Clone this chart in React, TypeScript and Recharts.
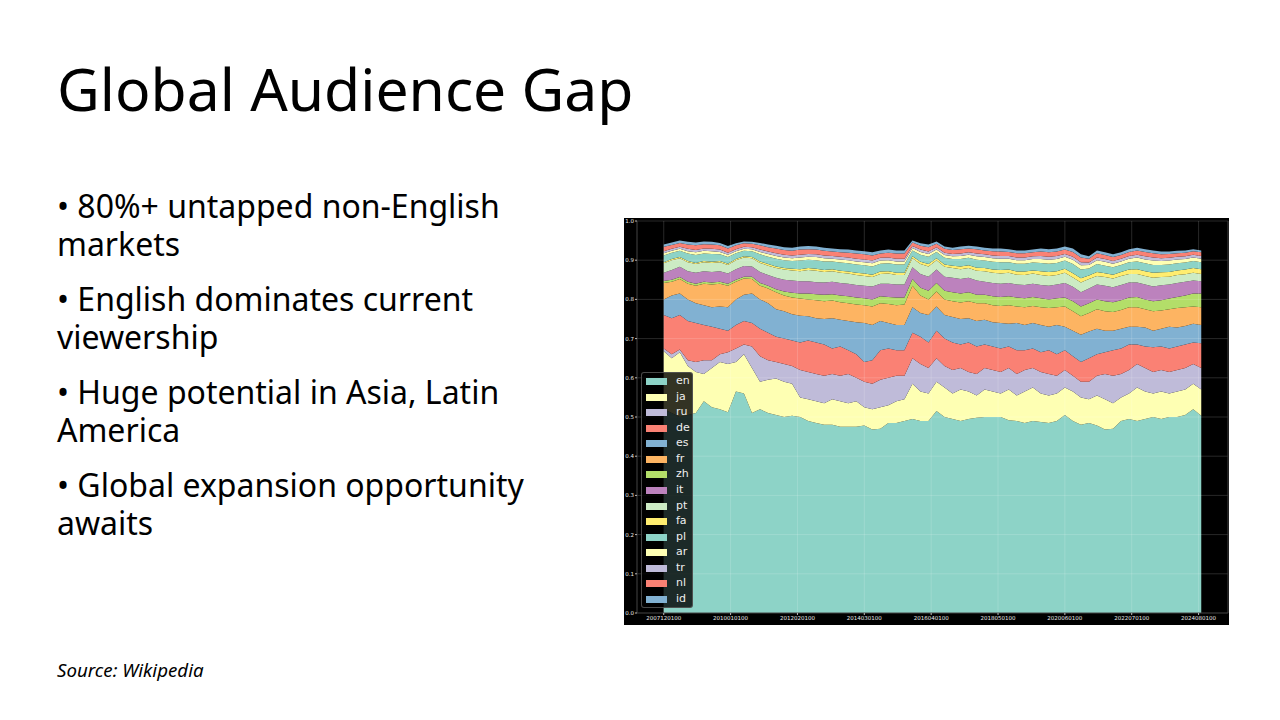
import React from 'react';
import { AreaChart, Area, XAxis, YAxis, ReferenceLine } from 'recharts';

// month index since 2007-12, sampled quarterly
const MONTHS = [0, 3, 6, 9, 12, 15, 18, 21, 24, 27, 30, 33, 36, 39, 42, 45, 48, 51, 54, 57, 60, 63, 66, 69, 72, 75, 78, 81, 84, 87, 90, 93, 96, 99, 102, 105, 108, 111, 114, 117, 120, 123, 126, 129, 132, 135, 138, 141, 144, 147, 150, 153, 156, 159, 162, 165, 168, 171, 174, 177, 180, 183, 186, 189, 192, 195, 198, 201];

const TICK_POS = [0, 25, 50, 75, 100, 125, 150, 175, 200];
const TICK_LABELS = ['2007120100', '2010010100', '2012020100', '2014030100', '2016040100', '2018050100', '2020060100', '2022070100', '2024080100'];
const Y_TICKS = [0, 0.1, 0.2, 0.3, 0.4, 0.5, 0.6, 0.7, 0.8, 0.9, 1.0];

const en = [.52, .51, .50, .505, .51, .54, .525, .52, .512, .565, .56, .51, .52, .51, .505, .50, .503, .50, .49, .485, .48, .48, .475, .475, .475, .478, .468, .47, .485, .485, .49, .495, .49, .49, .515, .50, .495, .49, .495, .498, .50, .50, .50, .492, .49, .485, .49, .487, .485, .49, .505, .49, .48, .485, .478, .468, .47, .49, .495, .49, .495, .50, .495, .50, .50, .505, .52, .503];
const ja = [.148, .14, .165, .125, .105, .07, .10, .12, .123, .075, .10, .115, .07, .085, .093, .09, .082, .05, .055, .055, .055, .065, .065, .06, .065, .047, .052, .055, .045, .055, .055, .09, .075, .07, .075, .075, .065, .08, .07, .057, .07, .065, .06, .078, .065, .08, .085, .073, .07, .07, .07, .075, .07, .06, .077, .077, .065, .06, .065, .085, .07, .06, .07, .06, .065, .065, .065, .067];
const ru = [.007, .01, .007, .015, .025, .035, .02, .02, .03, .035, .025, .055, .065, .05, .042, .045, .045, .07, .07, .07, .07, .065, .065, .075, .06, .065, .065, .07, .07, .065, .06, .065, .07, .065, .06, .055, .06, .055, .05, .055, .055, .055, .055, .055, .055, .055, .05, .055, .055, .045, .045, .04, .04, .045, .05, .065, .07, .06, .06, .06, .06, .055, .055, .055, .055, .055, .05, .055];
const de = [.085, .092, .088, .10, .10, .09, .085, .065, .055, .06, .06, .06, .07, .07, .065, .065, .065, .07, .08, .08, .08, .065, .075, .06, .06, .05, .06, .075, .075, .065, .065, .065, .07, .065, .07, .07, .07, .06, .075, .07, .06, .06, .06, .055, .06, .05, .05, .05, .06, .055, .05, .05, .05, .06, .055, .055, .065, .065, .065, .05, .055, .063, .06, .06, .06, .06, .055, .063];
const es = [.04, .058, .055, .055, .05, .05, .05, .057, .06, .065, .067, .075, .075, .075, .07, .07, .067, .068, .062, .062, .065, .077, .068, .075, .082, .10, .09, .075, .065, .065, .065, .065, .06, .07, .062, .06, .065, .065, .062, .065, .063, .062, .065, .058, .07, .065, .065, .07, .06, .075, .06, .065, .07, .068, .065, .055, .05, .05, .045, .045, .048, .042, .045, .055, .048, .047, .048, .047];
const fr = [.042, .035, .037, .04, .045, .055, .058, .058, .055, .045, .041, .037, .035, .038, .043, .04, .043, .044, .043, .046, .045, .045, .045, .045, .045, .045, .047, .045, .048, .05, .052, .055, .045, .04, .038, .04, .04, .042, .043, .045, .042, .043, .043, .047, .042, .045, .043, .045, .048, .045, .052, .05, .047, .047, .05, .05, .048, .048, .05, .05, .047, .05, .047, .045, .05, .048, .044, .045];
const zh = [.005, .005, .005, .005, .005, .005, .005, .005, .005, .005, .005, .006, .007, .007, .008, .01, .012, .013, .015, .015, .017, .016, .017, .018, .018, .018, .018, .018, .018, .02, .018, .017, .02, .022, .022, .022, .023, .023, .023, .022, .022, .023, .023, .023, .023, .023, .023, .023, .022, .023, .023, .025, .025, .025, .025, .025, .025, .025, .025, .026, .025, .025, .026, .027, .028, .03, .033, .035];
const it = [.021, .025, .026, .027, .028, .027, .027, .027, .026, .027, .027, .026, .028, .027, .029, .03, .031, .031, .031, .031, .031, .032, .032, .032, .032, .032, .033, .032, .034, .033, .033, .03, .035, .036, .034, .036, .037, .037, .037, .036, .033, .034, .034, .034, .033, .034, .034, .034, .035, .035, .037, .037, .036, .038, .038, .04, .038, .039, .038, .037, .038, .038, .038, .036, .036, .035, .033, .031];
const pt = [.024, .025, .022, .023, .022, .023, .023, .023, .022, .023, .022, .021, .023, .024, .025, .026, .026, .026, .029, .029, .027, .027, .026, .026, .025, .025, .024, .025, .026, .024, .024, .023, .025, .026, .024, .025, .025, .025, .025, .025, .027, .026, .026, .026, .025, .025, .026, .025, .025, .024, .026, .024, .025, .024, .022, .022, .022, .023, .022, .022, .022, .022, .021, .02, .02, .019, .02, .019];
const fa = [.003, .003, .003, .003, .003, .003, .003, .003, .003, .003, .003, .003, .004, .004, .004, .004, .004, .005, .005, .005, .005, .005, .005, .005, .006, .006, .006, .006, .006, .006, .006, .005, .006, .006, .005, .006, .006, .007, .007, .008, .008, .008, .009, .008, .008, .009, .008, .01, .01, .01, .01, .011, .011, .009, .01, .01, .01, .01, .011, .012, .012, .013, .012, .012, .012, .012, .012, .012];
const pl = [.017, .016, .016, .019, .02, .019, .02, .017, .017, .015, .014, .015, .018, .019, .02, .02, .02, .022, .021, .022, .022, .02, .021, .021, .021, .021, .021, .02, .02, .021, .021, .015, .018, .019, .016, .017, .017, .019, .019, .02, .019, .02, .02, .019, .02, .02, .02, .021, .021, .021, .021, .023, .022, .018, .02, .019, .019, .018, .019, .02, .02, .02, .019, .019, .018, .018, .018, .018];
const ar = [.006, .005, .005, .006, .007, .007, .007, .006, .006, .005, .005, .005, .006, .007, .007, .007, .007, .008, .008, .008, .008, .007, .008, .008, .008, .008, .008, .008, .008, .008, .008, .006, .007, .007, .006, .007, .007, .008, .008, .009, .009, .009, .009, .009, .009, .009, .009, .01, .01, .01, .01, .011, .011, .009, .01, .01, .009, .009, .009, .01, .01, .011, .01, .01, .01, .009, .009, .009];
const tr = [.005, .005, .005, .006, .006, .006, .006, .006, .005, .005, .005, .005, .006, .006, .007, .007, .007, .007, .007, .007, .007, .007, .007, .007, .007, .007, .007, .007, .007, .007, .007, .005, .006, .006, .006, .006, .006, .006, .006, .007, .007, .007, .007, .007, .007, .007, .007, .008, .008, .008, .007, .008, .008, .006, .007, .007, .007, .007, .007, .007, .008, .008, .007, .007, .007, .007, .007, .007];
const nl = [.011, .01, .01, .011, .012, .011, .011, .011, .011, .01, .009, .009, .011, .011, .012, .012, .012, .013, .012, .012, .012, .011, .011, .012, .013, .013, .013, .011, .012, .013, .013, .009, .01, .011, .009, .01, .01, .011, .01, .011, .01, .011, .011, .01, .011, .011, .01, .011, .011, .011, .011, .012, .012, .01, .011, .01, .01, .009, .01, .011, .011, .011, .01, .01, .009, .009, .009, .009];
const id = [.006, .006, .006, .007, .007, .007, .007, .006, .006, .005, .005, .005, .006, .007, .007, .007, .008, .008, .008, .008, .008, .008, .008, .008, .008, .008, .008, .008, .008, .008, .008, .005, .006, .007, .006, .006, .006, .007, .007, .007, .007, .007, .008, .007, .007, .007, .007, .008, .008, .008, .008, .009, .008, .006, .007, .007, .007, .007, .007, .007, .007, .007, .007, .006, .006, .006, .005, .005];

const LANGS = ['en', 'ja', 'ru', 'de', 'es', 'fr', 'zh', 'it', 'pt', 'fa', 'pl', 'ar', 'tr', 'nl', 'id'];
const SERIES = [en, ja, ru, de, es, fr, zh, it, pt, fa, pl, ar, tr, nl, id];
const PALETTE = ['#8dd3c7', '#feffb3', '#bfbbd9', '#fa8174', '#81b1d2', '#fdb462', '#b3de69', '#bc82bd', '#ccebc4', '#ffed6f'];

const rows = MONTHS.map((m, k) => {
  const row: Record<string, number> = { m };
  LANGS.forEach((lang, j) => {
    row[lang] = SERIES[j][k];
  });
  return row;
});

const BULLETS = [
  ['• 80%+ untapped non-English', 'markets'],
  ['• English dominates current', 'viewership'],
  ['• Huge potential in Asia, Latin', 'America'],
  ['• Global expansion opportunity', 'awaits'],
];

const GRID = 'rgba(255,255,255,0.2)';
const tickStyle = { fontSize: 5.5, fill: '#e8e8e8', fontFamily: 'DejaVu Sans' };

const StackChart = () => (
  <div style={{ position: 'absolute', left: 624, top: 218, width: 605, height: 407, background: '#000' }}>
    <AreaChart width={605} height={407} data={rows} margin={{ top: 3, right: 1, left: 0, bottom: 0 }}>
      <XAxis
        dataKey="m"
        type="number"
        domain={[-10, 211]}
        ticks={TICK_POS}
        allowDataOverflow
        tickFormatter={(v: number) => TICK_LABELS[TICK_POS.indexOf(v)]}
        tick={tickStyle}
        tickSize={2}
        tickMargin={1}
        height={12}
        axisLine={{ stroke: '#444' }}
        tickLine={{ stroke: '#bbb' }}
      />
      <YAxis
        type="number"
        domain={[0, 1]}
        ticks={Y_TICKS}
        allowDataOverflow
        tickFormatter={(v: number) => v.toFixed(1)}
        tick={tickStyle}
        tickSize={2}
        tickMargin={1}
        width={13}
        axisLine={{ stroke: '#444' }}
        tickLine={{ stroke: '#bbb' }}
      />
      {LANGS.map((lang, j) => (
        <Area
          key={lang}
          dataKey={lang}
          stackId="1"
          type="linear"
          stroke="none"
          fill={PALETTE[j % PALETTE.length]}
          fillOpacity={1}
          isAnimationActive={false}
        />
      ))}
      {TICK_POS.map((t) => (
        <ReferenceLine key={'x' + t} x={t} stroke={GRID} strokeWidth={0.8} />
      ))}
      {Y_TICKS.slice(1).map((t) => (
        <ReferenceLine key={'y' + t} y={t} stroke={GRID} strokeWidth={0.8} />
      ))}
      <ReferenceLine x={211} stroke="#444" />
    </AreaChart>
    <div
      style={{
        position: 'absolute',
        left: 17,
        top: 154,
        width: 52,
        height: 236,
        boxSizing: 'border-box',
        background: 'rgba(0,0,0,0.8)',
        border: '1px solid rgba(90,90,90,0.8)',
        borderRadius: 3,
      }}
    >
      {LANGS.map((lang, j) => (
        <div key={lang} style={{ position: 'absolute', left: 0, top: 1 + j * 15.57, height: 14, width: 50 }}>
          <div
            style={{
              position: 'absolute',
              left: 4,
              top: 4,
              width: 21,
              height: 7,
              background: PALETTE[j % PALETTE.length],
            }}
          />
          <div
            style={{
              position: 'absolute',
              left: 34,
              top: 0,
              fontFamily: 'DejaVu Sans',
              fontSize: 11,
              lineHeight: '14px',
              color: '#eee',
            }}
          >
            {lang}
          </div>
        </div>
      ))}
    </div>
  </div>
);

export default function App() {
  return (
    <div
      style={{
        position: 'fixed',
        left: 0,
        top: 0,
        width: 1280,
        height: 720,
        background: '#fff',
        fontFamily: '"Noto Sans", sans-serif',
        color: '#000',
        overflow: 'hidden',
      }}
    >
      <div style={{ position: 'absolute', left: 57, top: 59, fontSize: 58.8, lineHeight: '59px', whiteSpace: 'nowrap' }}>
        Global Audience Gap
      </div>
      <div style={{ position: 'absolute', left: 57, top: 187, width: 520 }}>
        {BULLETS.map((b, k) => (
          <div key={k} style={{ fontSize: 32, lineHeight: '38px', marginBottom: 17, whiteSpace: 'nowrap' }}>
            {b[0]}
            <br />
            {b[1]}
          </div>
        ))}
      </div>
      <div
        style={{
          position: 'absolute',
          left: 57,
          top: 660,
          fontSize: 18.7,
          lineHeight: '19px',
          fontStyle: 'italic',
        }}
      >
        Source: Wikipedia
      </div>
      <StackChart />
    </div>
  );
}
